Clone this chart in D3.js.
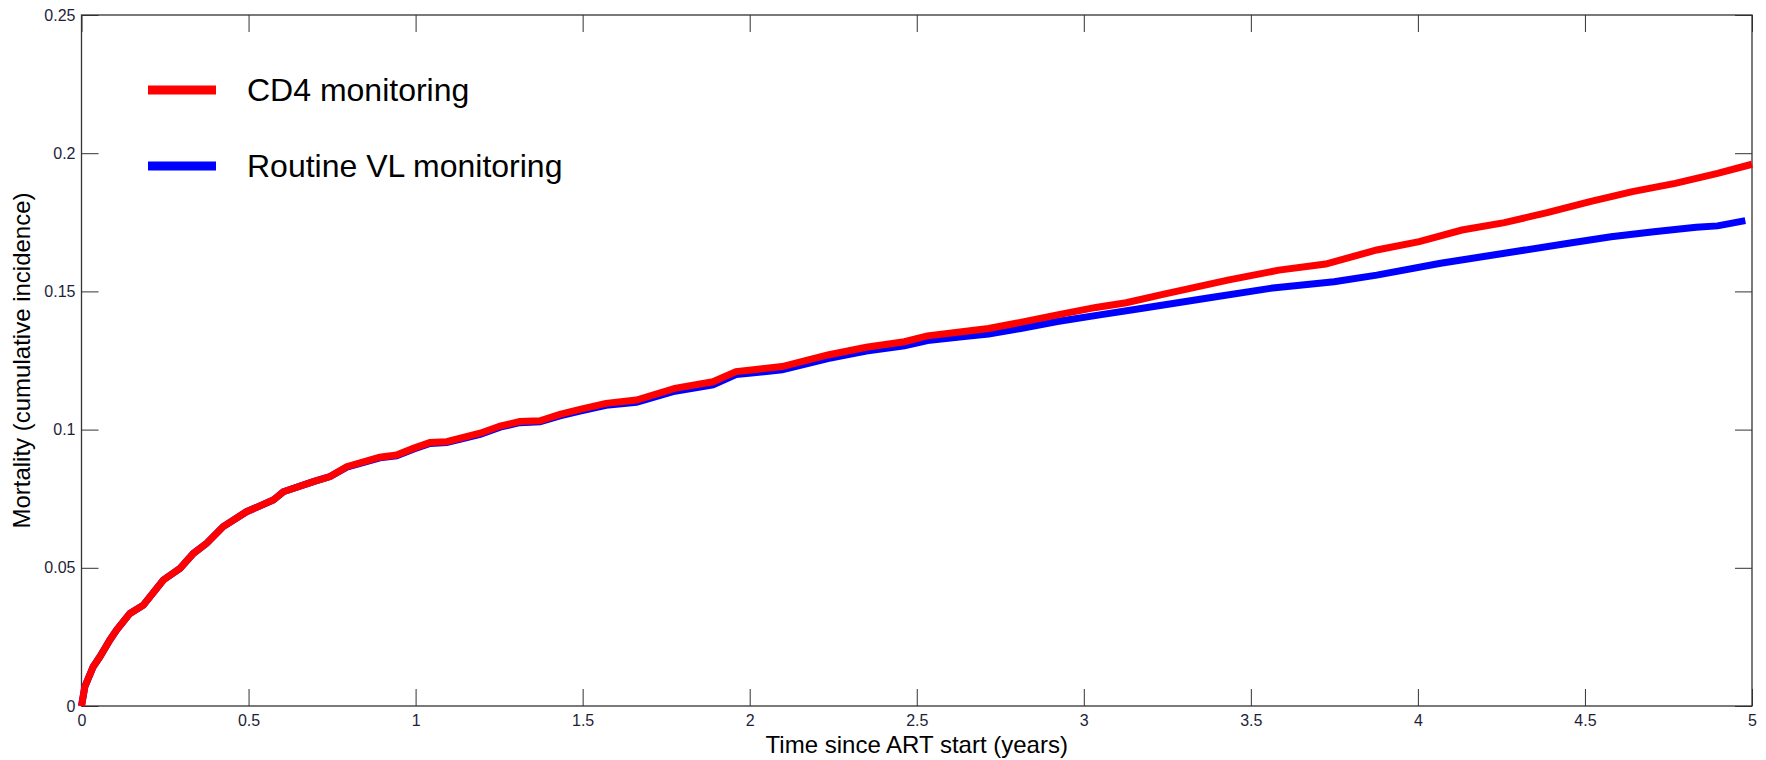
<!DOCTYPE html>
<html>
<head>
<meta charset="utf-8">
<script src="https://cdn.jsdelivr.net/npm/d3@7"></script>
<style>
  body { margin: 0; background: #fff; }
  text { font-family: "Liberation Sans", Arial, sans-serif; }
  .tick text { fill: #1e1e3a; font-size: 16px; }
  .tick line { stroke: #333; }
</style>
</head>
<body>
<div class="chart"></div>
<script>
// data
let timeCD4 = [0, 0.01, 0.035, 0.055, 0.085, 0.105, 0.145, 0.185, 0.245, 0.295, 0.335, 0.375, 0.424, 0.494,
  0.574, 0.604, 0.694, 0.744, 0.794, 0.893, 0.943, 0.993, 1.043, 1.093, 1.193, 1.253, 1.312, 1.372, 1.432,
  1.492, 1.570, 1.661, 1.776, 1.890, 1.959, 2.005, 2.097, 2.234, 2.349, 2.463, 2.532, 2.635, 2.715, 2.807,
  2.921, 3.036, 3.127, 3.240, 3.431, 3.584, 3.724, 3.877, 4.004, 4.132, 4.259, 4.387, 4.515, 4.642, 4.770,
  4.897, 5.0];
let mortCD4 = [0, 0.007, 0.0142, 0.0178, 0.0239, 0.0275, 0.0335, 0.0365, 0.0456, 0.0498, 0.0552, 0.0589, 0.0649, 0.0703,
  0.0745, 0.0775, 0.0812, 0.083, 0.0866, 0.090, 0.0908, 0.0932, 0.0953, 0.0956, 0.0987, 0.1013, 0.1029, 0.1032, 0.1055,
  0.1073, 0.1095, 0.1107, 0.1149, 0.1173, 0.121, 0.1216, 0.1228, 0.127, 0.1298, 0.1318, 0.1339, 0.1354, 0.1366, 0.1387,
  0.1415, 0.1442, 0.1459, 0.149, 0.1541, 0.1577, 0.1599, 0.165, 0.168, 0.1722, 0.1749, 0.1785, 0.1825, 0.1861, 0.1891,
  0.1927, 0.196];

let timeVL = [0, 0.01, 0.035, 0.055, 0.085, 0.105, 0.145, 0.185, 0.245, 0.295, 0.335, 0.375, 0.424, 0.494,
  0.574, 0.604, 0.694, 0.744, 0.794, 0.893, 0.943, 0.993, 1.043, 1.093, 1.193, 1.253, 1.312, 1.372, 1.432,
  1.492, 1.570, 1.661, 1.776, 1.890, 1.959, 2.005, 2.097, 2.234, 2.349, 2.463, 2.532, 2.635, 2.715, 2.807,
  2.921, 3.048, 3.176, 3.367, 3.558, 3.749, 3.877, 4.068, 4.259, 4.451, 4.578, 4.706, 4.833, 4.897, 4.98];
let mortVL = [0, 0.007, 0.0142, 0.0178, 0.0239, 0.0275, 0.0335, 0.0365, 0.0456, 0.0498, 0.0552, 0.0589, 0.0649, 0.0703,
  0.0745, 0.0775, 0.0812, 0.083, 0.0864, 0.0898, 0.0905, 0.0929, 0.0950, 0.0953, 0.0983, 0.1009, 0.1025, 0.1028, 0.1050,
  0.1067, 0.1088, 0.1099, 0.1139, 0.1162, 0.1199, 0.1205, 0.1216, 0.1257, 0.1284, 0.1303, 0.1322, 0.1336, 0.1346, 0.1365,
  0.1391, 0.1415, 0.1439, 0.1475, 0.1511, 0.1535, 0.1559, 0.1602, 0.1638, 0.1674, 0.1698, 0.1716, 0.1732, 0.1737, 0.1756];

let xTicks = [0, 0.5, 1, 1.5, 2, 2.5, 3, 3.5, 4, 4.5, 5];
let yTicks = [0, 0.05, 0.1, 0.15, 0.2, 0.25];
let seriesNames = ["CD4 monitoring", "Routine VL monitoring"];
let seriesColors = ["#ff0000", "#0000ff"];

//create chart area
let svgWidth = 1766;
let svgHeight = 760;

let margin = { top: 15, right: 14, bottom: 54, left: 81.5 };

let width = svgWidth - margin.left - margin.right;
let height = svgHeight - margin.top - margin.bottom;

var svg = d3.select(".chart")
  .append("svg")
  .attr("width", svgWidth)
  .attr("height", svgHeight);

var chartGroup = svg.append("g")
  .attr("transform", `translate(${margin.left}, ${margin.top})`);

let xScale = d3.scaleLinear().domain([0, 5]).range([0, width]);
let yScale = d3.scaleLinear().domain([0, 0.25]).range([height, 0]);

let tickLen = 17;

// bottom axis with labels, ticks pointing inward
let bottomAxis = d3.axisBottom(xScale).tickValues(xTicks).tickSizeInner(-tickLen).tickSizeOuter(0)
  .tickPadding(9).tickFormat(d3.format("~g"));
chartGroup.append("g")
  .attr("transform", `translate(0, ${height})`)
  .call(bottomAxis)
  .call(g => g.select(".domain").remove());

let leftAxis = d3.axisLeft(yScale).tickValues(yTicks).tickSizeInner(-tickLen).tickSizeOuter(0)
  .tickPadding(6).tickFormat(d3.format("~g"));
chartGroup.append("g")
  .call(leftAxis)
  .call(g => g.select(".domain").remove());

// mirrored ticks on top and right, no labels
chartGroup.append("g")
  .call(d3.axisTop(xScale).tickValues(xTicks).tickSizeInner(-tickLen).tickSizeOuter(0).tickFormat(""))
  .call(g => g.select(".domain").remove());
chartGroup.append("g")
  .attr("transform", `translate(${width}, 0)`)
  .call(d3.axisRight(yScale).tickValues(yTicks).tickSizeInner(-tickLen).tickSizeOuter(0).tickFormat(""))
  .call(g => g.select(".domain").remove());

// frame
chartGroup.append("rect")
  .attr("x", 0).attr("y", 0)
  .attr("width", width).attr("height", height)
  .attr("fill", "none")
  .attr("stroke", "#333")
  .attr("stroke-width", 1.3);

// lines
let line = d3.line()
  .x(d => xScale(d[0]))
  .y(d => yScale(d[1]));

let vlData = timeVL.map((t, i) => [t, mortVL[i]]);
let cd4Data = timeCD4.map((t, i) => [t, mortCD4[i]]);

chartGroup.append("path")
  .datum(vlData)
  .attr("d", line)
  .attr("fill", "none")
  .attr("stroke", seriesColors[1])
  .attr("stroke-width", 7);

chartGroup.append("path")
  .datum(cd4Data)
  .attr("d", line)
  .attr("fill", "none")
  .attr("stroke", seriesColors[0])
  .attr("stroke-width", 7);

// legend
let legend = svg.append("g");
seriesNames.forEach(function(name, i) {
  let ly = 90 + i * 76;
  legend.append("line")
    .attr("x1", 148).attr("x2", 216)
    .attr("y1", ly).attr("y2", ly)
    .attr("stroke", seriesColors[i])
    .attr("stroke-width", 9);
  legend.append("text")
    .attr("x", 247)
    .attr("y", ly + 11)
    .attr("font-size", "32px")
    .attr("fill", "#000")
    .text(name);
});

// axis titles
svg.append("text")
  .attr("x", margin.left + width / 2)
  .attr("y", 753)
  .attr("text-anchor", "middle")
  .attr("font-size", "24px")
  .text("Time since ART start (years)");

svg.append("text")
  .attr("transform", `translate(30, ${margin.top + height / 2}) rotate(-90)`)
  .attr("text-anchor", "middle")
  .attr("font-size", "24px")
  .text("Mortality (cumulative incidence)");
</script>
</body>
</html>
